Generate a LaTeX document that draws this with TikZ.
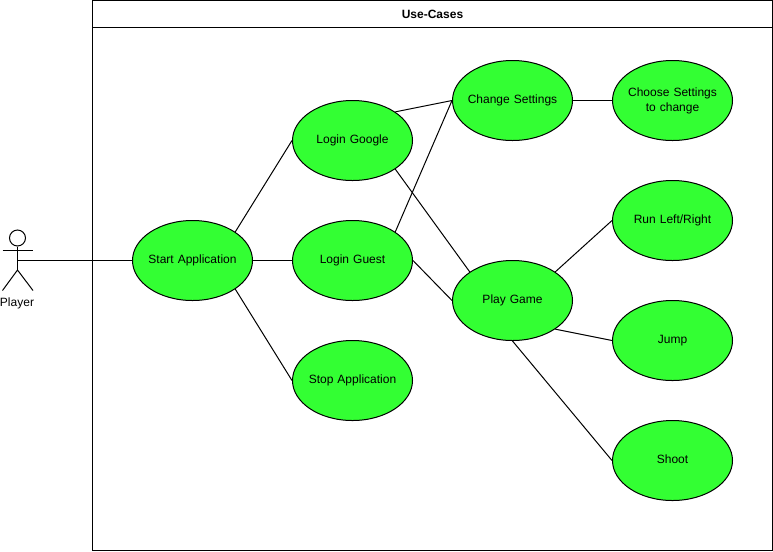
\documentclass[tikz,border=0pt]{standalone}
\usepackage{fontspec}
\setmainfont{Liberation Sans}
\usetikzlibrary{shapes.geometric}
\tikzset{
	usecase/.style = {draw = black,
					  shape = ellipse,
					  fill = usegreen,
					  line width = 0.75pt,
					  inner ysep = 0pt,
					  inner xsep = -8pt,
					  text width = 72pt,
					  minimum width = 90pt,
					  minimum height = 60pt,
					  align = center,
					  font = \fontsize{9pt}{11.25pt}\selectfont,
					  execute at begin node = \rule{0pt}{9pt},
					  execute at end node = \rule[-4pt]{0pt}{4pt}},
	link/.style = {black, line width = 0.75pt},
	stick/.style = {black, line width = 0.75pt}
}
\definecolor{usegreen}{RGB}{51,255,51}

\begin{document}
\begin{tikzpicture}[x = 0.75pt, y = -0.75pt]
	\useasboundingbox (0,0) rectangle (773,551);

	% use-case frame
	\draw[stick] (92.5,0.5) rectangle (772.5,550.5);
	\draw[stick] (92.5,27.5) -- (772.5,27.5);
	\draw (432.5,14) node[font = \fontsize{9pt}{10.5pt}\selectfont\bfseries](title) {Use-Cases};

	% actor
	\draw (17.5,238) node[draw = black,
						  shape = circle,
						  line width = 0.75pt,
						  inner sep = 0pt,
						  minimum size = 12pt](head) {};
	\coordinate (hip) at (17.5,270);
	\coordinate (hand) at (17.5,260.5);
	\coordinate (armL) at (2.5,250.5);
	\coordinate (armR) at (33,250.5);
	\coordinate (legL) at (2.5,290.5);
	\coordinate (legR) at (33,290.5);
	\draw[stick] (head) -- (hip);
	\draw[stick] (armL) -- (armR);
	\draw[stick] (legL) -- (hip) -- (legR);
	\draw (17,303.5) node[font = \fontsize{9pt}{10.5pt}\selectfont](player) {Player};

	% use cases
	\draw (192.5,260.5) node[usecase](start) {Start Application};
	\draw (352.5,140.5) node[usecase](google) {Login Google};
	\draw (352.5,260.5) node[usecase](guest) {Login Guest};
	\draw (352.5,380.5) node[usecase](stop) {Stop Application};
	\draw (512.5,100.5) node[usecase](change) {Change Settings};
	\draw (672.5,100.5) node[usecase](choose) {Choose Settings\\to change};
	\draw (512.5,300.5) node[usecase](play) {Play Game};
	\draw (672.5,220.5) node[usecase](run) {Run Left/Right};
	\draw (672.5,340.5) node[usecase](jump) {Jump};
	\draw (672.5,460.5) node[usecase](shoot) {Shoot};

	\draw[link] (hand) -- (start.west);
	\draw[link] (start.north east) -- (google.west);
	\draw[link] (start.east) -- (guest.west);
	\draw[link] (start.south east) -- (stop.west);
	\draw[link] (google.north east) -- (change.west);
	\draw[link] (guest.north east) -- (change.west);
	\draw[link] (google.south east) -- (play.north west);
	\draw[link] (guest.east) -- (play.west);
	\draw[link] (change.east) -- (choose.west);
	\draw[link] (play.north east) -- (run.west);
	\draw[link] (play.south east) -- (jump.west);
	\draw[link] (play.south) -- (shoot.west);

\end{tikzpicture}
\end{document}
